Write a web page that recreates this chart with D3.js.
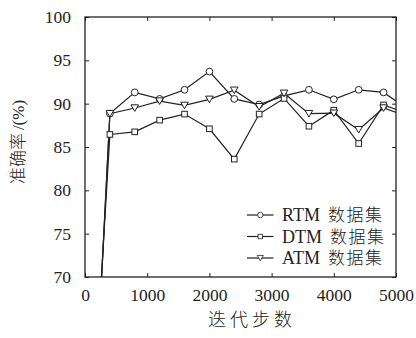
<!DOCTYPE html>
<html>
<head>
<meta charset="utf-8">
<script src="https://cdn.jsdelivr.net/npm/d3@7"></script>
<style>
  body { margin: 0; background: #fff; }
  text { font-family: "Liberation Serif", "Noto Sans CJK SC", serif; fill: #222; }
  .cjk { font-family: "Noto Sans CJK SC", sans-serif; font-weight: 300; }
</style>
</head>
<body>
<div id="chart"></div>
<script>
// iteration steps (first and last points sit outside the visible range)
var steps = [0, 400, 800, 1200, 1600, 2000, 2400, 2800, 3200, 3600, 4000, 4400, 4800, 5200];
var rtmValues = [32, 88.85, 91.3, 90.55, 91.6, 93.7, 90.55, 89.9, 90.9, 91.6, 90.5, 91.6, 91.3, 89.3];
var dtmValues = [38, 86.45, 86.75, 88.1, 88.8, 87.1, 83.6, 88.8, 90.6, 87.4, 89.25, 85.4, 89.85, 88.85];
var atmValues = [32, 88.85, 89.5, 90.3, 89.8, 90.5, 91.55, 89.65, 91.2, 88.85, 88.9, 87.0, 89.5, 88.5];
var seriesCodes = ["RTM", "DTM", "ATM"];
var seriesSuffix = "数据集";
var xTicks = [0, 1000, 2000, 3000, 4000, 5000];
var yTicks = [70, 75, 80, 85, 90, 95, 100];

(function(){
  var W = 416, H = 338;
  var margin = {left: 85, right: 20, top: 17, bottom: 61};
  var iw = W - margin.left - margin.right, ih = H - margin.top - margin.bottom;

  var svg = d3.select("#chart").append("svg").attr("width", W).attr("height", H);
  var g = svg.append("g").attr("transform", "translate(" + margin.left + "," + margin.top + ")");

  var x = d3.scaleLinear().domain([0, 5000]).range([0, iw]);
  var y = d3.scaleLinear().domain([70, 100]).range([ih, 0]);

  svg.append("defs").append("clipPath").attr("id", "plotClip")
    .append("rect").attr("width", iw).attr("height", ih);

  // axes with inward ticks, mirrored on top/right
  var tl = 4;
  g.append("g").attr("transform", "translate(0," + ih + ")")
    .call(d3.axisBottom(x).tickValues(xTicks).tickFormat(d3.format("d"))
      .tickSizeInner(-tl).tickSizeOuter(0).tickPadding(12));
  g.append("g")
    .call(d3.axisTop(x).tickValues(xTicks).tickSizeInner(-tl).tickSizeOuter(0).tickFormat(""));
  g.append("g")
    .call(d3.axisLeft(y).tickValues(yTicks).tickSizeInner(-tl).tickSizeOuter(0).tickPadding(14));
  g.append("g").attr("transform", "translate(" + iw + ",0)")
    .call(d3.axisRight(y).tickValues(yTicks).tickSizeInner(-tl).tickSizeOuter(0).tickFormat(""));

  g.selectAll(".domain").remove();
  g.selectAll(".tick line").attr("stroke", "#222").attr("stroke-width", 1);
  g.selectAll(".tick text").attr("font-size", 17.5).attr("fill", "#222")
    .style("font-family", "'Liberation Serif', serif");

  g.append("rect").attr("width", iw).attr("height", ih)
    .attr("fill", "none").attr("stroke", "#222").attr("stroke-width", 1.3);

  // markers
  function marker(sel, kind) {
    if (kind === 0) {
      sel.append("circle").attr("r", 3.4);
    } else if (kind === 1) {
      sel.append("rect").attr("x", -2.8).attr("y", -2.8).attr("width", 5.6).attr("height", 5.6);
    } else {
      sel.append("path").attr("d", "M-3.8,-3.2L3.8,-3.2L0,3.4Z");
    }
  }

  var allSeries = [rtmValues, dtmValues, atmValues];
  var line = d3.line().x(function(d, i){ return x(steps[i]); }).y(function(d){ return y(d); });
  var plot = g.append("g").attr("clip-path", "url(#plotClip)");

  allSeries.forEach(function(vals){
    plot.append("path").datum(vals).attr("d", line)
      .attr("fill", "none").attr("stroke", "#222").attr("stroke-width", 1.2);
  });
  allSeries.forEach(function(vals, k){
    var pts = plot.selectAll(".m" + k).data(vals).enter().append("g")
      .attr("class", "m" + k)
      .attr("transform", function(d, i){ return "translate(" + x(steps[i]) + "," + y(d) + ")"; });
    marker(pts, k);
    pts.selectAll("circle,rect,path").attr("fill", "#fff").attr("stroke", "#222").attr("stroke-width", 1);
  });

  // legend
  var lg = svg.append("g").attr("transform", "translate(247,215)");
  seriesCodes.forEach(function(code, k){
    var row = lg.append("g").attr("transform", "translate(0," + (k * 21.5) + ")");
    row.append("line").attr("x1", 0).attr("x2", 26.5).attr("stroke", "#222").attr("stroke-width", 1.2);
    var m = row.append("g").attr("transform", "translate(13.3,0)");
    marker(m, k);
    m.selectAll("circle,rect,path").attr("fill", "#fff").attr("stroke", "#222").attr("stroke-width", 1)
      .attr("transform", "scale(0.8)");
    var t = row.append("text").attr("x", 35).attr("y", 0).attr("dy", "0.35em").attr("font-size", 18);
    t.append("tspan").text(code);
    t.append("tspan").attr("class", "cjk").attr("font-size", 17).attr("dx", 8)
      .attr("letter-spacing", 1.5).text(seriesSuffix);
  });

  // axis titles
  svg.append("text").attr("class", "cjk").attr("x", 252).attr("y", 320).attr("dy", "0.35em")
    .attr("text-anchor", "middle").attr("font-size", 18).attr("letter-spacing", 4)
    .text("迭代步数");
  var yt = svg.append("text").attr("transform", "translate(18,142) rotate(-90)").attr("dy", "0.35em")
    .attr("text-anchor", "middle").attr("font-size", 17);
  yt.append("tspan").attr("class", "cjk").text("准确率");
  yt.append("tspan").attr("dx", 3).text("/(%)");
})();
</script>
</body>
</html>
